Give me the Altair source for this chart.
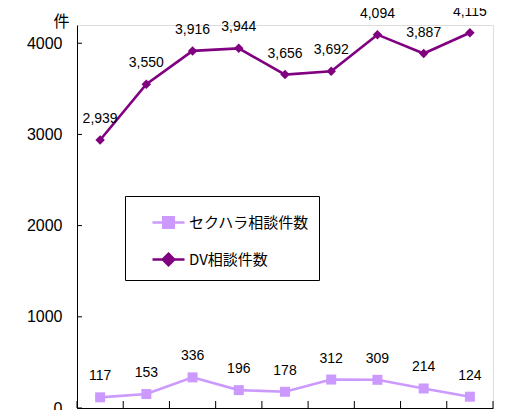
import altair as alt
import pandas as pd

# --- data ---
periods = list(range(9))  # category index (x labels are not visible in the reference)
sekuhara = [117, 153, 336, 196, 178, 312, 309, 214, 124]
dv = [2939, 3550, 3916, 3944, 3656, 3692, 4094, 3887, 4115]
series_names = ["セクハラ相談件数", "DV相談件数"]
series_colors = ["#CC99FF", "#800080"]
y_tick_values = [0, 1000, 2000, 3000, 4000]
x_boundaries = list(range(10))

rows = []
for i, p in enumerate(periods):
    rows.append({"period": p, "series": series_names[0], "value": sekuhara[i]})
    rows.append({"period": p, "series": series_names[1], "value": dv[i]})
df = pd.DataFrame(rows)

W, H = 416, 383
xscale = alt.Scale(domain=[0, 9], nice=False, zero=False)
yscale = alt.Scale(domain=[0, 4200], nice=False)

NUM_FONT = "Liberation Sans"
JP_FONT = "Noto Sans CJK JP"

color_scale = alt.Scale(domain=series_names, range=series_colors)

# legend symbols: short line with the series marker in its middle
path_line = "M-1,0L1,0"
path_sq = path_line + "M-0.33,-0.33L0.33,-0.33L0.33,0.33L-0.33,0.33Z"
path_dm = path_line + "M0,-0.36L0.36,0L0,0.36L-0.36,0Z"
shape_scale = alt.Scale(domain=series_names, range=[path_sq, path_dm])

legend = alt.Legend(
    title=None,
    orient="none",
    legendX=48,
    legendY=171,
    direction="vertical",
    padding=9,
    rowPadding=9,
    symbolSize=1024,
    symbolOffset=17,
    symbolStrokeWidth=2.5,
    labelFont=JP_FONT,
    labelFontSize=15,
    labelColor="#000000",
    labelOffset=3,
    strokeColor="#000000",
    fillColor="#FFFFFF",
)

base = alt.Chart(df).transform_calculate(pos="datum.period + 0.5")

x_enc = alt.X("pos:Q", scale=xscale,
              axis=alt.Axis(labels=False, ticks=False, grid=False, title=None,
                            domainColor="#000000", domainWidth=1))
y_enc = alt.Y("value:Q", scale=yscale,
              axis=alt.Axis(values=y_tick_values, grid=False, ticks=False, format="d",
                            labelFont=NUM_FONT, labelFontSize=16, labelColor="#000000",
                            labelPadding=15, domainColor="#000000", domainWidth=1,
                            title="件", titleAngle=0, titleFont=JP_FONT, titleFontSize=16,
                            titleFontWeight="normal", titleColor="#000000",
                            titleAlign="center", titleBaseline="middle",
                            titleX=-16, titleY=-4))

# zero-size layer that only carries the legend
legend_layer = base.mark_point(
    filled=False, opacity=1, size=0, strokeWidth=2.5).encode(
    x=x_enc, y=y_enc,
    color=alt.Color("series:N", scale=color_scale, legend=legend),
    fill=alt.Fill("series:N", scale=color_scale, legend=legend),
    shape=alt.Shape("series:N", scale=shape_scale, legend=legend),
)

lines = base.mark_line(strokeWidth=2.6).encode(
    x="pos:Q", y="value:Q",
    color=alt.Color("series:N", scale=color_scale, legend=None),
)

pts_sq = base.transform_filter(alt.datum.series == series_names[0]).mark_point(
    filled=True, opacity=1, size=100, shape="square").encode(
    x="pos:Q", y="value:Q",
    color=alt.Color("series:N", scale=color_scale, legend=None),
)
pts_dm = base.transform_filter(alt.datum.series == series_names[1]).mark_point(
    filled=True, opacity=1, size=90, shape="diamond").encode(
    x="pos:Q", y="value:Q",
    color=alt.Color("series:N", scale=color_scale, legend=None),
)

labels = base.mark_text(font=NUM_FONT, fontSize=14, color="#000000", dy=-21, baseline="middle").encode(
    x="pos:Q", y="value:Q",
    text=alt.Text("value:Q", format=","),
)

ytick_df = pd.DataFrame({"v": y_tick_values})
yticks = alt.Chart(ytick_df).mark_rule(color="#000000", strokeWidth=1).encode(
    y=alt.Y("v:Q", scale=yscale), x=alt.value(0), x2=alt.value(5)
)

xtick_df = pd.DataFrame({"b": x_boundaries})
xticks = alt.Chart(xtick_df).mark_rule(color="#000000", strokeWidth=1).encode(
    x=alt.X("b:Q", scale=xscale), y=alt.value(H), y2=alt.value(H - 7)
)

chart = alt.layer(legend_layer, lines, pts_sq, pts_dm, labels, yticks, xticks).properties(
    width=W, height=H,
    autosize=alt.AutoSizeParams(type="none"),
    padding={"left": 69, "top": 17, "right": 25, "bottom": 10},
).configure_view(stroke=None).configure(background="#FFFFFF")

chart.save("out.html", embed_options={"renderer": "svg", "actions": False})
